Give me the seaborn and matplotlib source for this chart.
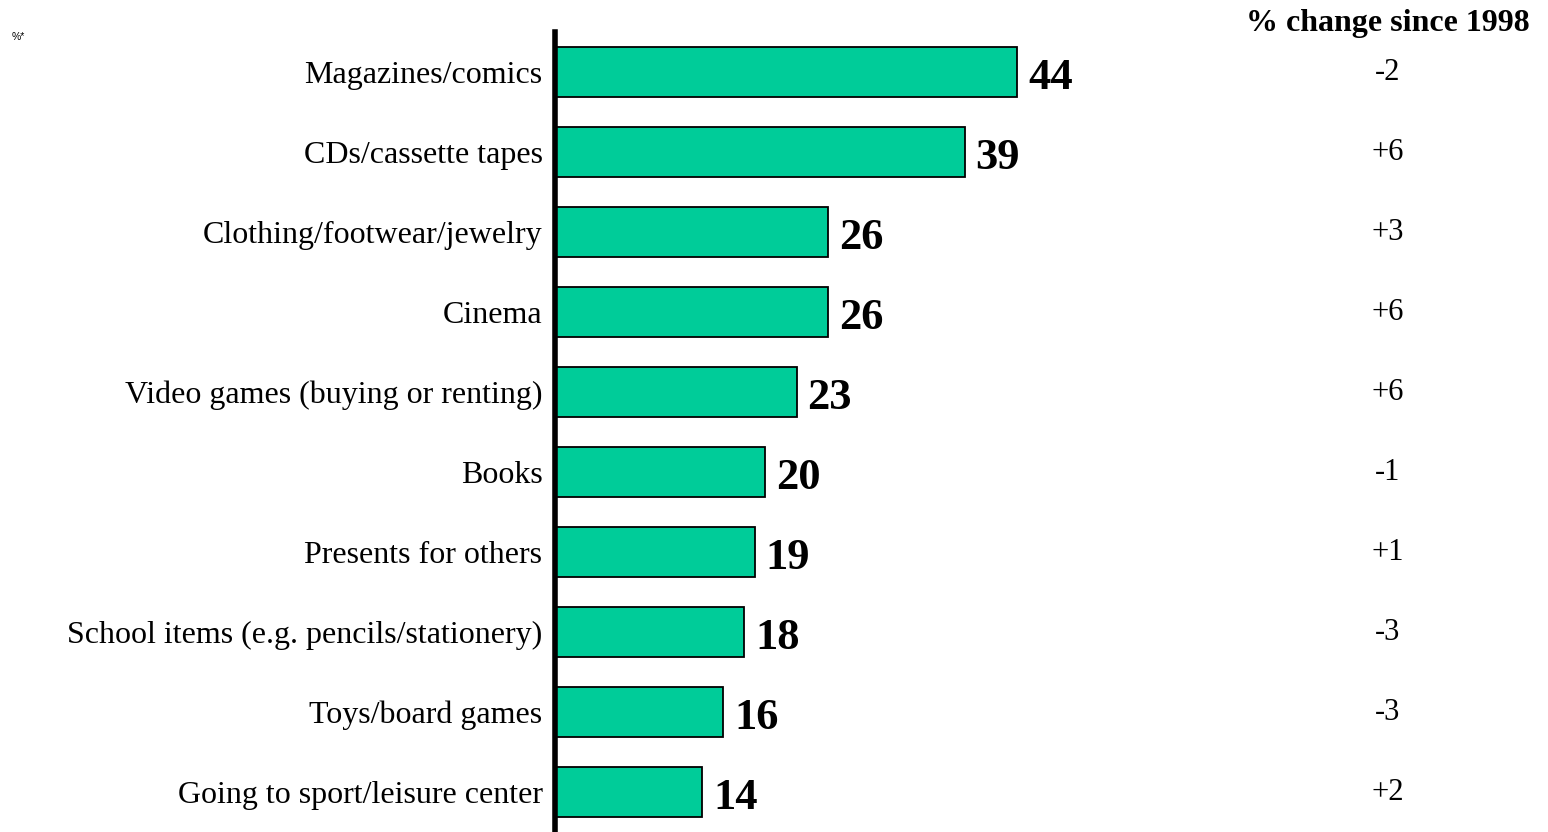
import matplotlib
matplotlib.use("Agg")
import matplotlib.pyplot as plt
import seaborn as sns
import pandas as pd

categories = [
    "Magazines/comics",
    "CDs/cassette tapes",
    "Clothing/footwear/jewelry",
    "Cinema",
    "Video games (buying or renting)",
    "Books",
    "Presents for others",
    "School items (e.g. pencils/stationery)",
    "Toys/board games",
    "Going to sport/leisure center",
]
values = [44, 39, 26, 26, 23, 20, 19, 18, 16, 14]
changes = ["-2", "+6", "+3", "+6", "+6", "-1", "+1", "-3", "-3", "+2"]
change_title = "% change since 1998"

df = pd.DataFrame({"category": categories, "value": values})

sns.set_theme(style="white")
plt.rcParams["font.family"] = ["Liberation Serif", "DejaVu Serif"]

W, H = 1548, 832
fig = plt.figure(figsize=(W / 100, H / 100), dpi=100)
ax_left = 555 / W
ax = fig.add_axes([ax_left, 0.0, (W - 555) / W, 800 / H])

sns.barplot(data=df, x="value", y="category", orient="h", color="#00CC99",
            saturation=1, width=0.625, edgecolor="black", linewidth=1.3, ax=ax)

px_per_unit = 10.5
ax.set_xlim(0, (W - 555) / px_per_unit)
ax.set_ylim(len(categories) - 0.5, -0.5)

for s in ["top", "right", "bottom"]:
    ax.spines[s].set_visible(False)
ax.spines["left"].set_linewidth(4)
ax.spines["left"].set_color("black")
ax.set_xticks([])
ax.set_xlabel("")
ax.set_ylabel("")
ax.tick_params(axis="y", length=0, pad=9, labelsize=23, labelcolor="black")

for i, v in enumerate(values):
    ax.annotate(str(v), (v, i), xytext=(8, -4), textcoords="offset points",
                ha="left", va="center", fontsize=32, fontweight="bold", color="black")

# right-hand column of changes
col_frac = (1388 - 555) / (W - 555)
trans = ax.get_yaxis_transform()
for i, c in enumerate(changes):
    ax.text(col_frac, i, c, transform=trans, ha="center", va="center",
            fontsize=22, color="black")
fig.text(1388 / W, 1 - 24 / H, change_title, ha="center", va="center",
         fontsize=23, fontweight="bold", color="black")

fig.text(12 / W, 1 - 37 / H, "%*", ha="left", va="center", fontsize=7.5,
         family=["Liberation Sans", "DejaVu Sans"], color="black")

fig.savefig("out.png", dpi=100)
